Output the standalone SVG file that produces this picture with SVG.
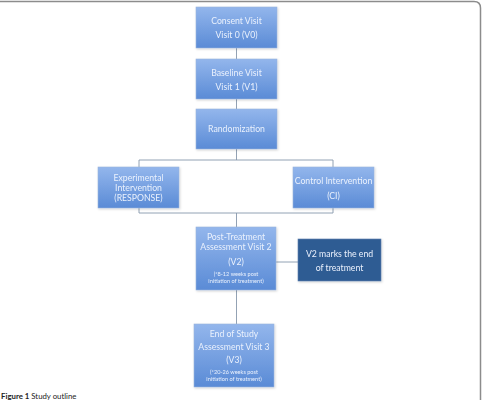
<svg xmlns="http://www.w3.org/2000/svg" width="482" height="400" viewBox="0 0 482 400">
<style>
.box{fill:url(#g);stroke:#9bb5dc;stroke-width:0.6}
.dark{fill:#2f5c93;stroke:#5a7fb0;stroke-width:0.6}
.t{font-family:Lato,"Open Sans",sans-serif;font-size:8.7px;fill:#eaf1fd;text-anchor:middle}
.s{font-family:Lato,"Open Sans",sans-serif;font-size:5.6px;fill:#eaf1fd;text-anchor:middle}
.c{fill:none;stroke:#8797ab;stroke-width:0.9}
</style>
<defs>
<linearGradient id="g" x1="0" y1="0" x2="0" y2="1">
<stop offset="0" stop-color="#93b6ec"/>
<stop offset="1" stop-color="#5a8bd6"/>
</linearGradient>
<filter id="sh" x="-10%" y="-10%" width="130%" height="130%">
<feDropShadow dx="0.8" dy="1" stdDeviation="0.8" flood-color="#000" flood-opacity="0.18"/>
</filter>
</defs>
<rect x="0" y="0" width="482" height="400" fill="#fff"/>
<path d="M0 1.5 H474 Q480.5 1.5 480.5 8 V400" fill="none" stroke="#8c8c8c" stroke-width="1.5"/>
<g id="connectors">
<path class="c" d="M236.5 48 V59 M236.5 99 V109 M236.5 149 V160 M139 160 H333 M139 160 V167 M333 160 V167 M139 208 V213 M333 208 V213 M139 213 H333 M236.5 213 V227 M276 262 H298 M236.5 290 V324"/>
</g>
<g id="consent" filter="url(#sh)">
<rect class="box" x="196" y="7" width="81" height="41"/>
<text class="t" x="236.5" y="24">Consent Visit</text>
<text class="t" x="236.5" y="38">Visit 0 (V0)</text>
</g>
<g id="baseline" filter="url(#sh)">
<rect class="box" x="196" y="59" width="81" height="40"/>
<text class="t" x="236.5" y="76">Baseline Visit</text>
<text class="t" x="236.5" y="90">Visit 1 (V1)</text>
</g>
<g id="randomization" filter="url(#sh)">
<rect class="box" x="196" y="109" width="81" height="40"/>
<text class="t" x="236.5" y="132">Randomization</text>
</g>
<g id="experimental" filter="url(#sh)">
<rect class="box" x="98" y="167" width="81" height="41"/>
<text class="t" x="138.5" y="181">Experimental</text>
<text class="t" x="138.5" y="191">Intervention</text>
<text class="t" x="138.5" y="201">(RESPONSE)</text>
</g>
<g id="control" filter="url(#sh)">
<rect class="box" x="293" y="167" width="81" height="41"/>
<text class="t" x="333.5" y="184">Control Intervention</text>
<text class="t" x="333.5" y="199">(CI)</text>
</g>
<g id="posttreatment" filter="url(#sh)">
<rect class="box" x="196" y="227" width="80" height="63"/>
<text class="t" x="236" y="240">Post-Treatment</text>
<text class="t" x="236" y="250">Assessment Visit 2</text>
<text class="t" x="236" y="265">(V2)</text>
<text class="s" x="236" y="276">(*8-12 weeks post</text>
<text class="s" x="236" y="283">initiation of treatment)</text>
</g>
<g id="v2marks" filter="url(#sh)">
<rect class="dark" x="298" y="239" width="83" height="42"/>
<text class="t" x="339.5" y="257">V2 marks the end</text>
<text class="t" x="339.5" y="271">of treatment</text>
</g>
<g id="endofstudy" filter="url(#sh)">
<rect class="box" x="194" y="324" width="80" height="63"/>
<text class="t" x="234" y="337">End of Study</text>
<text class="t" x="234" y="350">Assessment Visit 3</text>
<text class="t" x="234" y="363">(V3)</text>
<text class="s" x="234" y="374">(*20-26 weeks post</text>
<text class="s" x="234" y="381">initiation of treatment)</text>
</g>
<text x="1" y="399" font-family="Lato,'Open Sans',sans-serif" font-size="7.8px" fill="#222"><tspan font-weight="bold">Figure 1</tspan> Study outline</text>
</svg>
